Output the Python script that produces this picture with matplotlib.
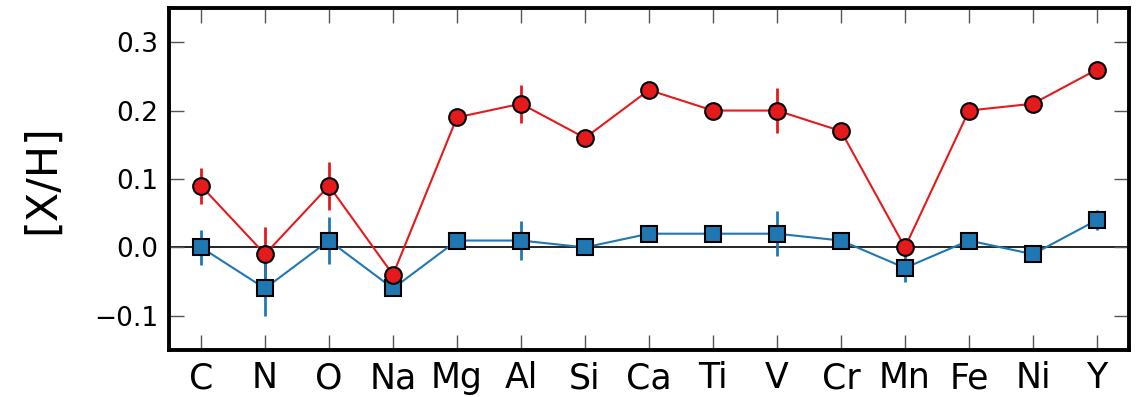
import numpy as np
import matplotlib
matplotlib.use("Agg")
import matplotlib.pyplot as plt

# Abundance ratios per element for the two samples
elements = ["C", "N", "O", "Na", "Mg", "Al", "Si", "Ca", "Ti", "V", "Cr", "Mn", "Fe", "Ni", "Y"]
red_vals = [0.09, -0.01, 0.09, -0.04, 0.19, 0.21, 0.16, 0.23, 0.20, 0.20, 0.17, 0.00, 0.20, 0.21, 0.26]
red_errs = [0.026, 0.040, 0.035, 0.005, 0.005, 0.028, 0.005, 0.008, 0.005, 0.033, 0.005, 0.012, 0.005, 0.005, 0.012]
blue_vals = [0.00, -0.06, 0.01, -0.06, 0.01, 0.01, 0.00, 0.02, 0.02, 0.02, 0.01, -0.03, 0.01, -0.01, 0.04]
blue_errs = [0.026, 0.040, 0.035, 0.005, 0.005, 0.028, 0.005, 0.005, 0.005, 0.033, 0.005, 0.020, 0.005, 0.005, 0.015]

red = "#e41a1c"
blue = "#1f78b4"

fig = plt.figure(figsize=(11.45, 3.97), dpi=100)
ax = fig.add_axes([0.1476, 0.1184, 0.8384, 0.8616])

x = np.arange(len(elements))

ax.axhline(0.0, color="black", lw=1.2, zorder=1)

# red error bars sit underneath everything else
ax.errorbar(x, red_vals, yerr=red_errs, fmt="none", ecolor=red, elinewidth=2, zorder=2)

ax.errorbar(x, blue_vals, yerr=blue_errs, fmt="none", ecolor=blue, elinewidth=2, zorder=3)
ax.plot(x, blue_vals, color=blue, lw=1.5, marker="s", ms=11,
        mfc=blue, mec="black", mew=1.5, zorder=3)

ax.plot(x, red_vals, color=red, lw=1.5, marker="o", ms=12,
        mfc=red, mec="black", mew=1.5, zorder=4)

ax.set_xlim(-0.5, 14.5)
ax.set_ylim(-0.15, 0.35)
ax.set_xticks(x)
ax.set_xticklabels(elements, fontsize=25)
ax.set_yticks([-0.1, 0.0, 0.1, 0.2, 0.3])
ax.tick_params(axis="y", labelsize=19)
ax.tick_params(direction="in", length=11, width=1, color="#555555",
               top=True, right=True, pad=8)
ax.set_ylabel("[X/H]", fontsize=31, labelpad=22)

for sp in ax.spines.values():
    sp.set_linewidth(2.8)

fig.savefig("out.png", dpi=100)
